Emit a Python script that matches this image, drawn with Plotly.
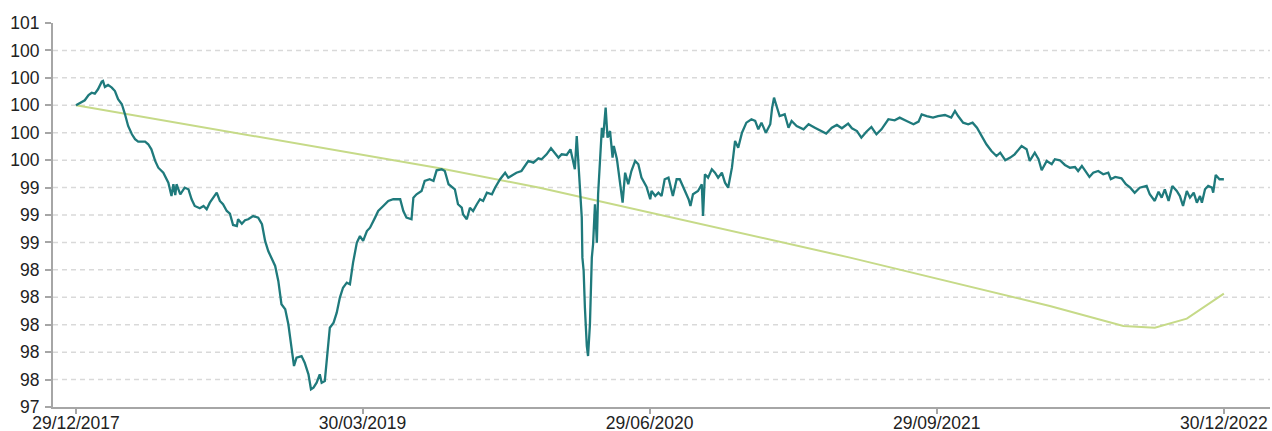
import pandas as pd
import plotly.graph_objects as go

# ---------------- data ----------------
start_date = "2017-12-29"

# teal series: day offset from start date, index value
teal_days = [0, 9, 14, 20, 25, 30, 35, 41, 43, 46, 51, 57, 62, 67, 73, 78, 83, 89, 94, 99,
             110, 115, 120, 126, 131, 139, 147, 152, 155, 158, 160, 166, 173, 179, 184, 189, 197, 203, 208, 213,
             219, 224, 229, 234, 240, 245, 250, 256, 258, 264, 269, 274,
             282, 290, 296, 301, 306, 311, 317, 322, 327, 333, 338, 343, 347, 351, 359, 364, 370, 374, 378, 383,
             388, 391, 396, 400, 404, 410, 415, 420, 425, 431, 436, 441, 447, 452, 457, 463, 468, 476, 481, 489,
             497, 505, 516, 521, 526, 534, 537, 542, 550, 555, 563, 569, 574, 582, 587, 593,
             603, 608, 614, 616, 622, 627, 632, 638, 643, 648, 654, 662, 667, 675, 683, 688, 693, 701, 709, 715,
             720, 728, 736, 741, 749, 756, 762, 768, 773, 781, 787, 792, 794, 797, 799, 802, 805, 806, 808, 810,
             813, 815, 818, 821, 823, 826, 829, 831, 834, 837, 839, 843, 846, 850, 854, 856, 861, 866, 870, 874,
             879, 884, 890, 895, 900,
             908, 914, 916, 922, 927, 932, 937, 943, 950, 956, 961, 967, 975, 978, 982, 990, 996, 998, 1001, 1006,
             1012, 1017, 1022, 1028, 1033, 1038, 1044, 1049, 1054, 1060, 1067, 1075, 1081, 1086, 1091, 1098, 1105,
             1108, 1111, 1115, 1120, 1128, 1134, 1139, 1147, 1158, 1166, 1176, 1187, 1194, 1203, 1211, 1219, 1229,
             1235, 1243, 1250, 1258, 1266, 1274, 1282, 1293, 1303, 1311, 1322, 1333, 1341, 1346, 1354, 1364, 1372,
             1383, 1393, 1399, 1404, 1412, 1420, 1427, 1434, 1442, 1449, 1457, 1465, 1471, 1479, 1487, 1494, 1505,
             1513, 1518, 1526, 1532, 1537, 1545,
             1553, 1558, 1566, 1574, 1582, 1590, 1595, 1601, 1606, 1613, 1619, 1627, 1635, 1643, 1647, 1654, 1664,
             1671, 1678, 1685, 1693, 1704, 1709, 1717, 1723, 1728, 1733, 1739, 1745, 1752, 1757, 1762, 1768, 1773,
             1779, 1784, 1789, 1792, 1797, 1802, 1808, 1810, 1814, 1820, 1827]

teal_values = [100.000, 100.032, 100.044, 100.090, 100.110, 100.102, 100.140, 100.207, 100.213, 100.160,
               100.178, 100.154, 100.125, 100.053, 100.009, 99.921, 99.819, 99.746, 99.703, 99.682,
               99.682, 99.659, 99.615, 99.513, 99.454, 99.410, 99.323, 99.206, 99.309, 99.215,
               99.309, 99.221, 99.279, 99.265, 99.178, 99.119, 99.099, 99.119, 99.090, 99.148,
               99.192, 99.235, 99.163, 99.134, 99.075, 99.052, 98.953, 98.944, 99.003, 98.964,
               98.994, 99.003,
               99.031, 99.017, 98.959, 98.813, 98.725, 98.667, 98.594, 98.463, 98.259, 98.215,
               98.084, 97.879, 97.719, 97.792, 97.806, 97.748, 97.646, 97.515, 97.529, 97.573,
               97.646, 97.573, 97.588, 97.821, 98.054, 98.098, 98.185, 98.317, 98.404, 98.448,
               98.434, 98.623, 98.798, 98.856, 98.813, 98.900, 98.929, 99.017, 99.075, 99.119,
               99.163, 99.178, 99.178, 99.075, 99.017, 99.003, 99.192, 99.221, 99.250, 99.338,
               99.353, 99.338, 99.431, 99.440, 99.425, 99.309,
               99.265, 99.134, 99.104, 99.046, 99.003, 99.104, 99.075, 99.134, 99.178, 99.163,
               99.235, 99.221, 99.279, 99.353, 99.410, 99.367, 99.381, 99.410, 99.425, 99.469,
               99.513, 99.498, 99.536, 99.528, 99.571, 99.624, 99.585, 99.542, 99.571, 99.565,
               99.615, 99.469, 99.440, 99.731, 99.571, 99.338, 99.017, 98.667, 98.550, 98.229,
               97.894, 97.806, 98.084, 98.667, 98.784, 99.134, 98.798, 99.221, 99.513, 99.804,
               99.717, 99.979, 99.717, 99.775, 99.542, 99.644, 99.528, 99.338, 99.148, 99.410,
               99.309, 99.425, 99.513, 99.484, 99.367,
               99.287, 99.178, 99.250, 99.206, 99.235, 99.206, 99.353, 99.367, 99.206, 99.353,
               99.353, 99.279, 99.178, 99.119, 99.221, 99.250, 99.309, 99.031, 99.396, 99.367,
               99.440, 99.410, 99.367, 99.410, 99.323, 99.279, 99.454, 99.688, 99.629, 99.760,
               99.848, 99.878, 99.863, 99.790, 99.848, 99.760, 99.834, 99.979, 100.067, 99.994,
               99.906, 99.921, 99.804, 99.863, 99.819, 99.790, 99.834, 99.804, 99.775, 99.752,
               99.804, 99.828, 99.799, 99.839,
               99.799, 99.775, 99.717, 99.769, 99.810, 99.746, 99.790, 99.878, 99.869, 99.892,
               99.863, 99.834, 99.857, 99.921, 99.906, 99.892, 99.906, 99.915, 99.892, 99.950,
               99.906, 99.848, 99.834, 99.848, 99.804, 99.731, 99.659, 99.600, 99.556, 99.585,
               99.519, 99.542, 99.571, 99.644, 99.615, 99.513, 99.585, 99.528, 99.431, 99.513,
               99.484, 99.528, 99.519, 99.478, 99.454, 99.460, 99.425, 99.469, 99.425, 99.373,
               99.410, 99.425, 99.396, 99.410, 99.353, 99.373, 99.361, 99.309, 99.279, 99.235,
               99.279, 99.294, 99.221, 99.163, 99.244, 99.192, 99.265, 99.163, 99.294, 99.250,
               99.206, 99.119, 99.250, 99.192, 99.235, 99.148, 99.206, 99.148, 99.265, 99.294,
               99.279, 99.235, 99.390, 99.353, 99.353]

# light green series
green_days = [0, 277, 579, 738, 914, 1232, 1550, 1667, 1717, 1768, 1827]
green_values = [100.000, 99.738, 99.449, 99.279, 99.060, 98.667, 98.244, 98.069, 98.054, 98.133, 98.352]

# axis ticks
x_tick_dates = ["2017-12-29", "2019-03-30", "2020-06-29", "2021-09-29", "2022-12-30"]
x_tick_labels = ["29/12/2017", "30/03/2019", "29/06/2020", "29/09/2021", "30/12/2022"]
y_tick_values = [97.36, 97.60, 97.84, 98.08, 98.32, 98.56, 98.80, 99.04, 99.28, 99.52,
                 99.76, 100.00, 100.24, 100.48, 100.72]
y_tick_labels = ["97", "98", "98", "98", "98", "98", "99", "99", "99", "100",
                 "100", "100", "100", "100", "101"]

# ---------------- figure ----------------
start = pd.Timestamp(start_date)
teal_x = start + pd.to_timedelta(teal_days, unit="D")
green_x = start + pd.to_timedelta(green_days, unit="D")

FONT = "Liberation Sans, Arial, sans-serif"
AXIS_COLOR = "#a6a6a6"

fig = go.Figure()
fig.add_trace(go.Scatter(x=green_x, y=green_values, mode="lines",
                         line=dict(color="#c6da88", width=2), hoverinfo="skip"))
fig.add_trace(go.Scatter(x=teal_x, y=teal_values, mode="lines",
                         line=dict(color="#1f7a7c", width=2.3), hoverinfo="skip"))

for v in y_tick_values[1:-1]:
    fig.add_shape(type="line", xref="paper", x0=0, x1=1, yref="y", y0=v, y1=v,
                  line=dict(color="#d9d9d9", width=1.5, dash="5px,4px"), layer="below")

fig.update_layout(
    width=1272, height=431,
    margin=dict(l=53, r=2, t=23, b=24, pad=0),
    paper_bgcolor="white", plot_bgcolor="white",
    showlegend=False,
    font=dict(family=FONT, size=17, color="#222222"),
    xaxis=dict(
        type="date",
        range=[start - pd.Timedelta(days=36.6), start + pd.Timedelta(days=1900.4)],
        tickmode="array", tickvals=x_tick_dates, ticktext=x_tick_labels,
        showline=True, linecolor=AXIS_COLOR, linewidth=2,
        ticks="outside", ticklen=5, tickcolor=AXIS_COLOR, tickwidth=1.5,
        showgrid=False, zeroline=False, automargin=False,
        ticklabelstandoff=-6,
        tickfont=dict(family=FONT, size=17.5, color="#222222"),
    ),
    yaxis=dict(
        range=[y_tick_values[0], y_tick_values[-1]],
        tickmode="array", tickvals=y_tick_values, ticktext=y_tick_labels,
        showline=True, linecolor=AXIS_COLOR, linewidth=2,
        ticks="outside", ticklen=6, tickcolor=AXIS_COLOR, tickwidth=1.5,
        showgrid=False, zeroline=False, automargin=False,
        ticklabelstandoff=2,
        tickfont=dict(family=FONT, size=17.5, color="#222222"),
    ),
)

fig.write_html("out.html", config={"displayModeBar": False},
               post_script="document.body.style.margin='0';")
